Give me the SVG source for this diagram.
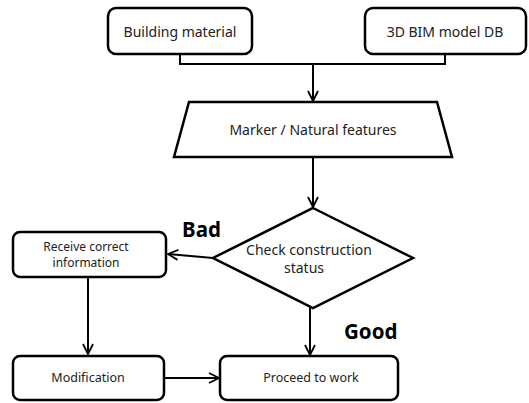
<svg xmlns="http://www.w3.org/2000/svg" width="529" height="403" viewBox="0 0 529 403">
<defs>
<marker id="arr" viewBox="0 0 12 12" refX="11" refY="6" markerWidth="12" markerHeight="12" markerUnits="userSpaceOnUse" orient="auto">
<path d="M1,1 L11,6 L1,11" fill="none" stroke="#000" stroke-width="1.8"/>
</marker>
<style>
.box{fill:#fff;stroke:#000;stroke-width:2.5}
.ln{fill:none;stroke:#000;stroke-width:2}
.t{font-family:"Noto Sans","Liberation Sans",sans-serif;font-size:14px;fill:#222;text-anchor:middle}
.s{font-size:12.5px}
.r{font-size:12px}
.b{font-family:"Noto Sans","Liberation Sans",sans-serif;font-size:20.5px;font-weight:bold;fill:#000}
</style>
</defs>
<rect width="529" height="403" fill="#fff"/>
<g id="connectors">
<path class="ln" d="M180,54 V64 H445 V54"/>
<path class="ln" d="M313,64 V101" marker-end="url(#arr)"/>
<path class="ln" d="M313,157 V207" marker-end="url(#arr)"/>
<path class="ln" d="M213,258 L168,254" marker-end="url(#arr)"/>
<path class="ln" d="M88,277 V354" marker-end="url(#arr)"/>
<path class="ln" d="M310,307 V355" marker-end="url(#arr)"/>
<path class="ln" d="M164,378 H219" marker-end="url(#arr)"/>
</g>
<g id="building">
<rect class="box" x="108" y="8" width="144" height="46" rx="8"/>
<text class="t" x="180" y="37">Building material</text>
</g>
<g id="bim">
<rect class="box" x="365" y="8" width="161" height="46" rx="8"/>
<text class="t" x="445" y="37">3D BIM model DB</text>
</g>
<g id="marker">
<polygon class="box" points="189,102 437,102 452,157 174,157"/>
<text class="t" x="313" y="135">Marker / Natural features</text>
</g>
<g id="check">
<polygon class="box" points="313,208 413,258 313,308 213,258"/>
<text class="t" x="309" y="255">Check construction</text>
<text class="t" x="304" y="273">status</text>
</g>
<g id="receive">
<rect class="box" x="13" y="232" width="153" height="45" rx="7"/>
<text class="t r" x="86" y="251">Receive correct</text>
<text class="t r" x="86" y="267">information</text>
</g>
<g id="modification">
<rect class="box" x="13" y="356" width="151" height="44" rx="7"/>
<text class="t s" x="88" y="382">Modification</text>
</g>
<g id="proceed">
<rect class="box" x="220" y="356" width="178" height="44" rx="7"/>
<text class="t s" x="311" y="382">Proceed to work</text>
</g>
<text class="b" x="182" y="237">Bad</text>
<text class="b" x="344" y="339">Good</text>
</svg>
